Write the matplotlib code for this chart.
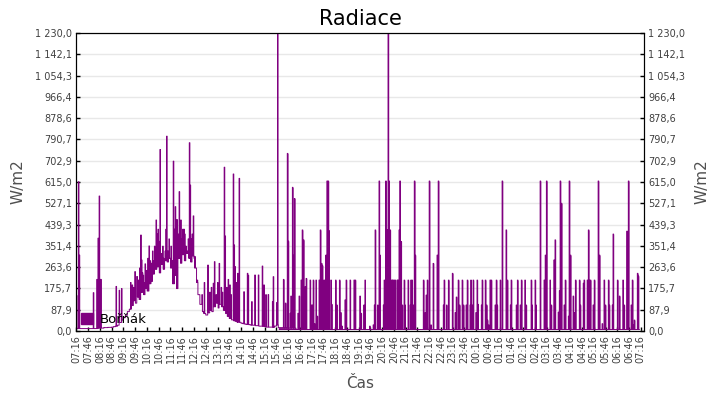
import numpy as np
import matplotlib
matplotlib.use("Agg")
import matplotlib.pyplot as plt
from matplotlib.patches import Patch
from matplotlib.ticker import FuncFormatter

# daytime curve, one reading per 5 minutes from 07:16 (W/m2)
day_v = [10, 10, 10, 10, 10, 10, 10, 10, 10, 10, 10,
         12, 12, 12, 14, 14, 15, 15, 16, 18, 20, 24,
         35, 45, 55, 65, 80, 90, 105, 125, 115, 140, 130, 160,
         150, 175, 165, 195, 205, 235, 255, 265, 240, 275, 255, 290,
         285, 300, 260, 195, 230, 175, 300, 280, 315, 290, 320, 300,
         285, 310, 260, 200, 150, 110, 80, 72, 66, 75, 85, 80,
         100, 115, 95, 110, 100, 85, 72, 60, 52, 46, 42, 40,
         36, 36, 32, 30, 28, 27, 26, 24, 24, 22, 22, 20,
         20, 19, 18, 16, 16, 16, 15, 20, 25,
         14, 14, 14, 14, 14, 12, 12, 12, 12]
night_floor = 6
end_min = 1436

# short peaks: minutes after 07:16 and W/m2
spike_t = [0, 5, 7, 43, 52, 55, 58, 60, 62, 101, 109, 115, 138, 142, 145, 149,
           154, 158, 161, 164, 166, 168, 170, 172, 175, 179, 182, 185, 188, 192,
           194, 196, 199, 201, 203, 206, 208, 210, 213, 217, 220, 222, 226, 228,
           230, 233, 236, 238, 241, 244, 247, 250, 252, 254, 256, 259, 262, 264,
           266, 269, 271, 274, 276, 279, 282, 285, 288, 290, 292, 295, 298, 300,
           302, 305, 308, 320, 326, 335, 340, 344, 349, 352, 356, 360, 364, 369,
           372, 377, 379, 383, 387, 391, 394, 400, 402, 404, 407, 411, 415, 427,
           436, 438, 447, 455, 464, 474, 478, 483, 489, 500, 502, 511, 513]
spike_v = [146, 616, 313, 158, 213, 383, 557, 213, 213, 184, 168, 175, 200, 190, 180, 245,
           225, 210, 260, 396, 293, 240, 230, 200, 277, 250, 300, 351, 290, 280,
           330, 290, 350, 300, 458, 400, 420, 370, 749, 320, 350, 300, 330, 420,
           804, 330, 380, 300, 350, 290, 701, 420, 513, 330, 460, 400, 575, 440,
           458, 380, 420, 420, 400, 350, 330, 380, 777, 602, 380, 400, 475, 300,
           307, 260, 210, 150, 200, 272, 160, 180, 197, 286, 150, 200, 279, 180,
           160, 676, 392, 180, 213, 190, 150, 648, 355, 266, 200, 238, 630, 162,
           238, 230, 121, 231, 231, 268, 190, 150, 150, 121, 224, 118, 1240]

eve_t = [528, 533, 538, 540, 545, 547, 551, 553, 556, 565, 568, 573, 576, 579, 583,
         586, 596, 598, 601, 604, 607, 611, 614, 619, 622, 625, 627, 631, 634, 636,
         639, 642, 644, 649, 651, 661, 664, 671, 674, 677, 685, 688, 698, 708, 711,
         723, 726, 733, 736, 748, 757, 760, 762, 768, 772, 774, 783, 785, 789, 792,
         794, 795, 797, 800, 802, 805, 807, 810, 813, 818, 820, 823, 825, 828, 831,
         836, 838, 846, 851, 853, 856, 859, 862, 864, 885, 889, 892, 895, 900, 904,
         910, 920, 923, 936, 938, 944, 949, 959, 966, 969, 974, 977]
eve_v = [213, 115, 733, 371, 73, 144, 593, 313, 547, 73, 144, 210, 417, 376, 183,
         217, 210, 107, 107, 210, 30, 210, 61, 210, 417, 279, 270, 210, 210, 313,
         619, 619, 414, 210, 110, 210, 107, 210, 76, 20, 128, 210, 210, 210, 210,
         144, 73, 107, 210, 20, 25, 107, 417, 107, 619, 313, 107, 210, 619, 417,
         417, 1240, 619, 417, 210, 210, 210, 210, 210, 210, 210, 417, 619, 369, 107,
         210, 107, 210, 107, 210, 210, 107, 619, 313, 210, 76, 148, 210, 619, 25,
         279, 313, 619, 107, 210, 107, 210, 238, 76, 140, 210, 107]

night_t = [984, 987, 994, 997, 1004, 1006, 1009, 1012, 1019, 1022, 1024, 1033, 1035,
           1043, 1046, 1048, 1051, 1055, 1058, 1068, 1071, 1073, 1081, 1086, 1096,
           1099, 1107, 1109, 1122, 1125, 1132, 1135, 1144, 1147, 1160, 1162, 1170,
           1172, 1183, 1193, 1196, 1199, 1208, 1211, 1218, 1221, 1229, 1232, 1234,
           1237, 1244, 1247, 1255, 1257, 1260, 1267, 1270, 1273, 1283, 1285, 1293,
           1295, 1303, 1306, 1308, 1311, 1318, 1321, 1331, 1334, 1341, 1346, 1349,
           1357, 1359, 1367, 1369, 1380, 1385, 1394, 1397, 1404, 1408, 1415, 1418,
           1420, 1423, 1431, 1433]
night_v = [210, 107, 107, 210, 107, 210, 107, 210, 76, 210, 110, 107, 210,
           210, 107, 45, 25, 210, 210, 107, 210, 107, 210, 619, 417,
           210, 107, 210, 107, 210, 107, 210, 210, 107, 210, 107, 210,
           107, 619, 210, 313, 619, 210, 107, 293, 376, 78, 166, 619,
           527, 107, 210, 61, 619, 313, 144, 76, 210, 210, 107, 197,
           210, 210, 417, 210, 210, 107, 210, 619, 313, 30, 210, 107,
           210, 107, 107, 400, 210, 144, 210, 107, 412, 619, 107, 210,
           25, 45, 238, 227]

purple = "#800080"
dt = 0.5
spike_w = 1.5

t = np.arange(0, end_min + dt, dt)
rad = np.full(t.size, float(night_floor))
base = np.repeat(np.array(day_v, dtype=float), int(5 / dt))
rad[:base.size] = base
for st, sv in zip(spike_t + eve_t + night_t, spike_v + eve_v + night_v):
    i0 = int(round(st / dt))
    rad[i0:i0 + int(spike_w / dt)] = sv

fig = plt.figure(figsize=(7.2, 4.0), dpi=100)
ax = fig.add_axes([76 / 720, 69 / 400, 568 / 720, 298 / 400])

night = t >= 515
ax.fill_between(t[night], night_floor, rad[night], step="post", color=purple, lw=0)
ax.plot(t, rad, drawstyle="steps-post", color=purple, lw=0.7)

ax.set_xlim(-1, 1448)
ax.set_ylim(0, 1230)
yt = np.linspace(0, 1230, 15)


def fmt(v, pos=None):
    return f"{v:,.1f}".replace(",", " ").replace(".", ",")


xt = np.arange(0, 1441, 30)
start = 7 * 60 + 16
xl = [f"{((start + m) // 60) % 24:02d}:{(start + m) % 60:02d}" for m in xt]
ax.set_xticks(xt)
ax.set_xticklabels(xl, rotation=90)
ax.set_yticks(yt)
ax.yaxis.set_major_formatter(FuncFormatter(fmt))
ax.grid(axis="y", color="#e8e8e8", lw=1)
ax.set_axisbelow(True)

ax2 = ax.twinx()
ax2.set_ylim(0, 1230)
ax2.set_yticks(yt)
ax2.yaxis.set_major_formatter(FuncFormatter(fmt))

for a in (ax, ax2):
    a.tick_params(direction="in", length=3, width=1, labelsize=7, labelcolor="#404040", pad=3)
    for s in a.spines.values():
        s.set_color("black")

ax.set_title("Radiace", fontsize=15, pad=6)
ax.set_xlabel("Čas", fontsize=11, color="#505050", labelpad=9)
ax.set_ylabel("W/m2", fontsize=11, color="#505050", labelpad=7)
ax2.set_ylabel("W/m2", fontsize=11, color="#505050", labelpad=7)

ax.legend(handles=[Patch(facecolor=purple, edgecolor=purple, label="Bořňák")],
          loc="lower left", frameon=False, fontsize=9.5, handlelength=0.9,
          handleheight=0.9, handletextpad=0.5, borderaxespad=0.2, borderpad=0.2)

fig.savefig("out.png", dpi=100)
